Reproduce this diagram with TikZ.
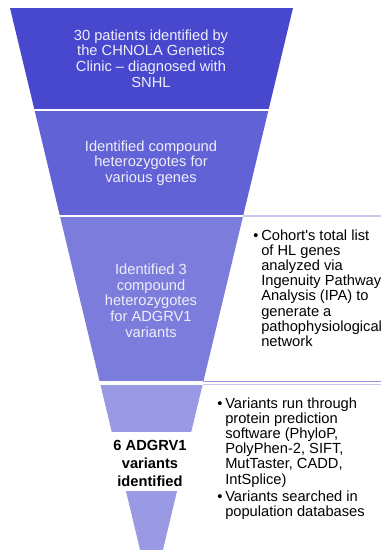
\documentclass[tikz,border=0pt]{standalone}
\usepackage{fontspec}
\setmainfont{Liberation Sans}
\definecolor{bandA}{RGB}{72,72,207}
\definecolor{bandB}{RGB}{98,98,215}
\definecolor{bandC}{RGB}{124,124,221}
\definecolor{bandD}{RGB}{154,154,228}
\definecolor{bandtext}{RGB}{238,238,250}
\definecolor{rulelight}{RGB}{200,200,240}
\definecolor{ruledark}{RGB}{150,150,228}
\tikzset{
  band/.style={draw=white, line width=1.8pt, line join=miter},
  bandlabel/.style={align=center, text=bandtext, inner sep=0pt, font=\fontsize{11}{11.8}\selectfont},
  boldlabel/.style={align=center, text=black, inner sep=0pt, font=\fontsize{11}{13.5}\selectfont\bfseries},
  sidelist/.style={align=left, text=black, inner sep=0pt, anchor=west, font=\fontsize{11}{11.4}\selectfont},
}
\newcommand{\bul}{\makebox[6pt][l]{•}}
\newcommand{\ind}{\hspace*{6pt}}
\begin{document}
\begin{tikzpicture}[x=0.75pt,y=-0.75pt]
\useasboundingbox (0,0) rectangle (381,550);
% funnel bands
\fill[bandA] (10,8) -- (293,8) -- (268.5,110) -- (34.5,110) -- cycle;
\fill[bandB] (34.5,110) -- (268.5,110) -- (243.1,216) -- (59.9,216) -- cycle;
\fill[bandC] (59.9,216) -- (243.1,216) -- (203,383) -- (100,383) -- cycle;
\fill[bandD] (100,383) -- (203,383) -- (162.9,550) -- (140.1,550) -- cycle;
% separators
\draw[white, line width=1.6pt] (30,110) -- (272,110);
\draw[rulelight, line width=1.2pt] (243.1,216) -- (381,216);
\draw[white, line width=1.6pt] (55,216) -- (243.1,216);
\draw[white, line width=2.4pt] (95,383) -- (210,383);
\draw[ruledark, line width=0.9pt] (203,381.8) -- (381,381.8);
\draw[rulelight, line width=0.9pt] (203,384.6) -- (381,384.6);
% white text box over bottom band
\fill[white] (95,432) rectangle (205,491);
% labels
\node[bandlabel] (t1) at (151,58.5) {30 patients identified by\\the CHNOLA Genetics\\Clinic – diagnosed with\\SNHL};
\node[bandlabel] (t2) at (151,163) {Identified compound\\heterozygotes for\\various genes};
\node[bandlabel] (t3) at (151,300.5) {Identified 3\\compound\\heterozygotes\\for ADGRV1\\variants};
\node[boldlabel] (t4) at (150,463) {6 ADGRV1\\variants\\identified};
\node[sidelist] (s1) at (253,288) {\bul Cohort\textquotesingle s total list\\\ind of HL genes\\\ind analyzed via\\\ind Ingenuity Pathway\\\ind Analysis (IPA) to\\\ind generate a\\\ind pathophysiological\\\ind network};
\node[sidelist] (s2) at (217,458.5) {\bul Variants run through\\\ind protein prediction\\\ind software (PhyloP,\\\ind PolyPhen-2, SIFT,\\\ind MutTaster, CADD,\\\ind IntSplice)\\[1.5pt]\bul Variants searched in\\\ind population databases};
\end{tikzpicture}
\end{document}
